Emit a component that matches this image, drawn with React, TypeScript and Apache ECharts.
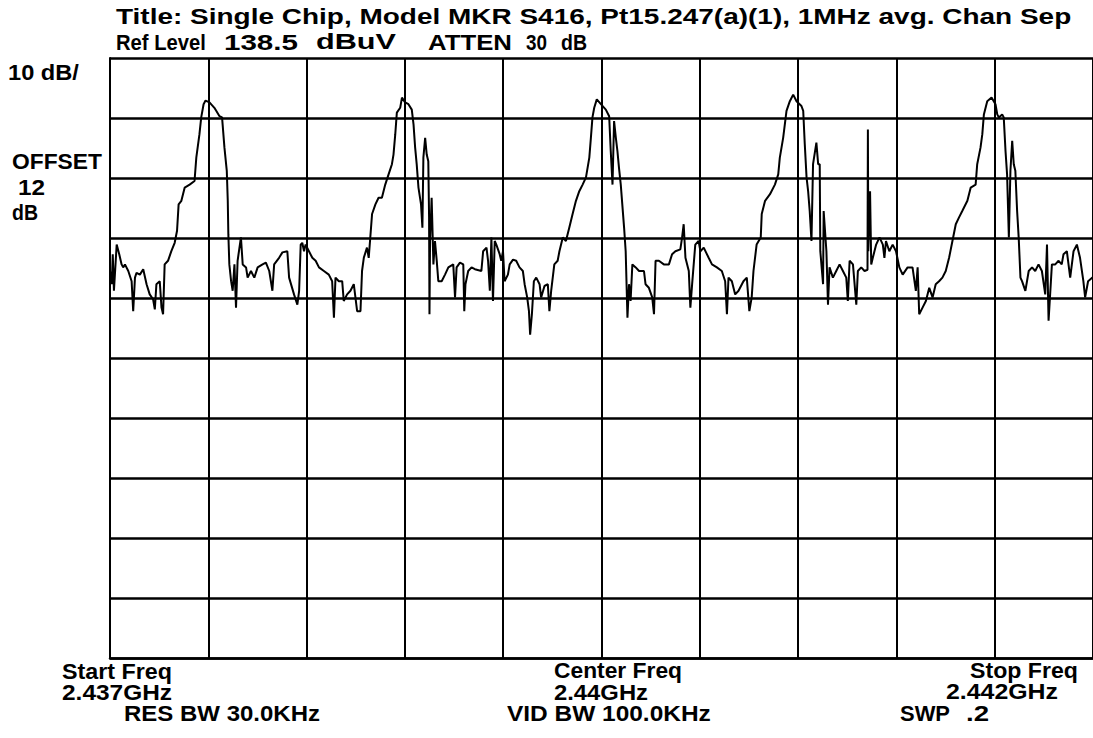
import React, { useEffect, useRef } from "react";
import * as echarts from "echarts";

// ---- Analyzer settings (from the screen annotations) ----
const REF_LEVEL_DBUV = 138.5;
const DB_PER_DIV = 10;
const START_FREQ_MHZ = 2437;
const STOP_FREQ_MHZ = 2442;
const FREQ_DIV_MHZ = 0.5;

// ---- Trace: [frequency MHz, level dBuV] ----
const traceChannel1: [number, number][] = [
  [2437.000, 103.0], [2437.009, 100.8], [2437.014, 105.8], [2437.020, 99.7], [2437.034, 107.4], [2437.047, 105.8],
  [2437.059, 104.1], [2437.067, 103.6], [2437.076, 104.1], [2437.093, 103.0], [2437.110, 101.3], [2437.118, 96.3],
  [2437.127, 101.9], [2437.135, 102.7], [2437.152, 102.4], [2437.169, 103.3], [2437.186, 100.8], [2437.202, 99.1],
  [2437.219, 98.3], [2437.228, 96.6], [2437.236, 100.8], [2437.253, 101.3], [2437.262, 96.9], [2437.270, 95.8],
  [2437.278, 104.1], [2437.295, 104.7], [2437.312, 106.3], [2437.329, 107.7], [2437.341, 109.7], [2437.349, 114.1],
  [2437.363, 114.7], [2437.380, 116.9], [2437.405, 117.4], [2437.430, 118.0], [2437.439, 121.9], [2437.455, 125.8],
  [2437.464, 128.6], [2437.476, 130.8], [2437.486, 131.4], [2437.506, 131.1], [2437.531, 130.2], [2437.557, 128.8],
  [2437.570, 128.6], [2437.582, 123.6], [2437.594, 119.7], [2437.599, 114.7], [2437.602, 109.1], [2437.607, 104.1],
  [2437.616, 101.3], [2437.624, 99.7], [2437.633, 104.1], [2437.641, 96.9], [2437.649, 104.7], [2437.666, 108.6],
  [2437.675, 104.1], [2437.692, 103.6], [2437.700, 101.9], [2437.717, 103.0], [2437.734, 101.9], [2437.751, 103.6],
  [2437.776, 104.1], [2437.793, 104.4], [2437.810, 103.0], [2437.826, 99.7], [2437.835, 104.1], [2437.860, 105.2],
  [2437.877, 106.1], [2437.902, 106.3], [2437.911, 101.9], [2437.936, 99.1], [2437.953, 97.4], [2437.962, 99.7],
  [2437.970, 107.4], [2437.978, 107.7], [2437.987, 106.3], [2437.995, 107.4],
];

const traceChannel2: [number, number][] = [
  [2438.012, 106.3], [2438.029, 105.2], [2438.046, 104.7], [2438.063, 103.6], [2438.088, 103.0], [2438.113, 102.4],
  [2438.130, 101.3], [2438.139, 95.2], [2438.147, 101.9], [2438.164, 101.3], [2438.181, 101.3], [2438.189, 98.0],
  [2438.206, 99.1], [2438.223, 99.7], [2438.240, 100.8], [2438.257, 96.3], [2438.274, 96.3], [2438.282, 103.0],
  [2438.291, 105.2], [2438.307, 106.9], [2438.316, 105.2], [2438.324, 108.6], [2438.333, 112.5], [2438.350, 114.1],
  [2438.366, 115.2], [2438.383, 115.2], [2438.400, 117.4], [2438.417, 119.1], [2438.434, 120.8], [2438.442, 122.4],
  [2438.451, 125.8], [2438.459, 129.4], [2438.476, 130.2], [2438.485, 131.9], [2438.501, 131.1], [2438.518, 130.8],
  [2438.535, 129.9], [2438.544, 127.4], [2438.552, 123.6], [2438.560, 120.8], [2438.569, 116.9], [2438.582, 114.1],
  [2438.589, 110.2], [2438.594, 121.9], [2438.603, 125.2], [2438.611, 122.4], [2438.619, 121.3], [2438.623, 111.9],
  [2438.625, 95.8], [2438.628, 108.0], [2438.636, 115.2], [2438.645, 104.1], [2438.653, 108.0], [2438.662, 104.7],
  [2438.670, 101.3], [2438.687, 101.3], [2438.704, 102.4], [2438.721, 103.6], [2438.746, 104.1], [2438.755, 98.6],
  [2438.763, 103.6], [2438.780, 104.4], [2438.797, 104.1], [2438.802, 96.3], [2438.808, 100.8], [2438.822, 103.0],
  [2438.839, 103.6], [2438.856, 103.3], [2438.889, 103.0], [2438.898, 106.3], [2438.915, 106.9], [2438.923, 104.7],
  [2438.932, 99.7], [2438.940, 108.6], [2438.948, 98.0], [2438.957, 108.0], [2438.965, 107.4], [2438.982, 105.8],
  [2438.990, 104.7], [2438.999, 106.3],
];

const traceChannel3: [number, number][] = [
  [2439.007, 101.3], [2439.024, 102.4], [2439.033, 104.1], [2439.050, 104.9], [2439.066, 104.7], [2439.083, 103.6],
  [2439.100, 103.0], [2439.109, 100.8], [2439.122, 98.6], [2439.131, 96.3], [2439.137, 92.4], [2439.146, 95.8],
  [2439.156, 101.3], [2439.168, 101.9], [2439.185, 100.8], [2439.193, 98.6], [2439.210, 100.5], [2439.227, 100.8],
  [2439.235, 96.3], [2439.244, 99.7], [2439.260, 104.1], [2439.277, 104.7], [2439.286, 106.3], [2439.303, 108.6],
  [2439.319, 108.0], [2439.336, 110.2], [2439.353, 112.5], [2439.370, 114.7], [2439.387, 116.3], [2439.404, 117.4],
  [2439.421, 118.6], [2439.438, 121.9], [2439.446, 125.2], [2439.454, 128.6], [2439.463, 130.2], [2439.476, 131.6],
  [2439.497, 130.8], [2439.522, 129.9], [2439.539, 128.8], [2439.547, 123.0], [2439.556, 117.4], [2439.564, 128.0],
  [2439.573, 125.2], [2439.581, 123.0], [2439.589, 120.2], [2439.598, 117.4], [2439.615, 110.2], [2439.623, 106.3],
  [2439.632, 95.2], [2439.640, 100.8], [2439.648, 98.0], [2439.657, 104.1], [2439.674, 103.6], [2439.691, 103.0],
  [2439.716, 103.0], [2439.724, 100.8], [2439.741, 100.2], [2439.758, 98.6], [2439.767, 95.8], [2439.775, 104.7],
  [2439.792, 104.7], [2439.817, 104.1], [2439.843, 104.1], [2439.859, 105.8], [2439.876, 106.3], [2439.901, 106.6],
  [2439.910, 108.6], [2439.918, 110.8], [2439.927, 105.2], [2439.944, 103.0], [2439.952, 96.9], [2439.961, 100.8],
  [2439.977, 107.4], [2439.994, 108.0],
];

const traceChannel4: [number, number][] = [
  [2440.003, 106.3], [2440.020, 106.9], [2440.045, 105.2], [2440.062, 104.1], [2440.087, 103.6], [2440.112, 103.0],
  [2440.129, 101.3], [2440.138, 95.8], [2440.146, 101.9], [2440.163, 101.3], [2440.180, 99.1], [2440.197, 99.7],
  [2440.222, 101.3], [2440.239, 101.9], [2440.252, 96.3], [2440.264, 98.6], [2440.273, 103.0], [2440.289, 107.4],
  [2440.310, 108.6], [2440.315, 112.5], [2440.332, 114.7], [2440.357, 115.8], [2440.382, 117.4], [2440.399, 119.1],
  [2440.407, 121.9], [2440.424, 125.2], [2440.441, 129.7], [2440.458, 131.3], [2440.475, 132.4], [2440.492, 131.3],
  [2440.517, 130.5], [2440.526, 129.7], [2440.534, 124.1], [2440.543, 118.6], [2440.551, 116.3], [2440.559, 113.0],
  [2440.568, 108.0], [2440.576, 120.8], [2440.593, 124.4], [2440.602, 120.8], [2440.610, 120.8], [2440.613, 106.3],
  [2440.627, 100.8], [2440.630, 113.0], [2440.644, 106.3], [2440.652, 97.4], [2440.660, 103.6], [2440.677, 101.9],
  [2440.694, 103.0], [2440.711, 104.1], [2440.728, 103.0], [2440.745, 101.9], [2440.753, 98.0], [2440.762, 104.7],
  [2440.779, 104.1], [2440.796, 97.4], [2440.804, 103.0], [2440.821, 103.6], [2440.838, 103.0], [2440.853, 103.2],
  [2440.855, 126.6], [2440.857, 106.3], [2440.866, 116.3], [2440.872, 104.1], [2440.880, 105.2], [2440.897, 107.4],
  [2440.914, 108.6], [2440.931, 107.4], [2440.939, 105.2], [2440.947, 108.0], [2440.964, 106.3], [2440.981, 107.4],
  [2440.998, 106.3],
];

const traceChannel5: [number, number][] = [
  [2441.015, 103.6], [2441.032, 102.4], [2441.057, 103.6], [2441.082, 103.6], [2441.099, 99.7], [2441.108, 103.6],
  [2441.116, 95.8], [2441.133, 96.9], [2441.150, 98.0], [2441.167, 100.2], [2441.184, 98.6], [2441.200, 100.8],
  [2441.217, 101.3], [2441.234, 101.9], [2441.251, 103.0], [2441.268, 105.2], [2441.285, 108.0], [2441.302, 110.8],
  [2441.318, 111.9], [2441.335, 113.0], [2441.361, 114.7], [2441.378, 116.9], [2441.403, 117.4], [2441.411, 120.8],
  [2441.428, 123.6], [2441.437, 125.8], [2441.445, 129.1], [2441.462, 131.3], [2441.484, 131.9], [2441.504, 130.8],
  [2441.513, 129.1], [2441.521, 128.6], [2441.538, 129.1], [2441.546, 128.6], [2441.555, 123.0], [2441.563, 119.1],
  [2441.572, 108.6], [2441.580, 119.7], [2441.589, 124.7], [2441.597, 120.8], [2441.605, 119.7], [2441.614, 113.0],
  [2441.622, 108.6], [2441.631, 101.9], [2441.639, 101.3], [2441.656, 99.7], [2441.673, 103.0], [2441.690, 103.6],
  [2441.706, 103.0], [2441.723, 104.1], [2441.740, 103.0], [2441.757, 99.1], [2441.766, 107.4], [2441.774, 94.7],
  [2441.791, 104.1], [2441.808, 104.1], [2441.825, 104.7], [2441.841, 104.1], [2441.850, 105.8], [2441.867, 106.3],
  [2441.884, 101.9], [2441.901, 106.3], [2441.918, 107.4], [2441.934, 105.2], [2441.951, 101.3], [2441.960, 98.6],
  [2441.975, 101.3], [2442.000, 102.0],
];

// ---- Screen annotations ----
const titleText = "Title: Single Chip, Model MKR S416, Pt15.247(a)(1), 1MHz avg. Chan Sep";
const refLineTexts = ["Ref Level", "138.5", "dBuV", "ATTEN", "30", "dB"];
const leftTexts = ["10 dB/", "OFFSET", "12", "dB"];
const startTexts = ["Start Freq", "2.437GHz", "RES BW 30.0KHz"];
const centerTexts = ["Center Freq", "2.44GHz", "VID BW 100.0KHz"];
const stopTexts = ["Stop Freq", "2.442GHz", "SWP", ".2"];

// ---- Layout (pixels): [left, right, vertical centre] ----
const FONT_FAMILY = "'Liberation Sans', Arial, sans-serif";
const FONT_SIZE = 22;
const GRID = { left: 110, top: 58, width: 988, height: 600 };

const textBoxes: { text: string; box: [number, number, number] }[] = [
  { text: titleText, box: [116, 1072, 16] },
  { text: refLineTexts[0], box: [116, 206, 42] },
  { text: refLineTexts[1], box: [224, 298, 42] },
  { text: refLineTexts[2], box: [316, 396, 42] },
  { text: refLineTexts[3], box: [428, 512, 42] },
  { text: refLineTexts[4], box: [526, 547, 42] },
  { text: refLineTexts[5], box: [561, 587, 42] },
  { text: leftTexts[0], box: [8, 79, 72] },
  { text: leftTexts[1], box: [12, 102, 162] },
  { text: leftTexts[2], box: [18, 45, 187] },
  { text: leftTexts[3], box: [12, 38, 212] },
  { text: startTexts[0], box: [62, 172, 671] },
  { text: startTexts[1], box: [62, 172, 692] },
  { text: startTexts[2], box: [124, 320, 713] },
  { text: centerTexts[0], box: [554, 682, 671] },
  { text: centerTexts[1], box: [554, 648, 692] },
  { text: centerTexts[2], box: [507, 711, 713] },
  { text: stopTexts[0], box: [970, 1078, 671] },
  { text: stopTexts[1], box: [946, 1058, 692] },
  { text: stopTexts[2], box: [900, 950, 713] },
  { text: stopTexts[3], box: [966, 989, 713] },
];

function measureWidth(text: string): number {
  const ctx = document.createElement("canvas").getContext("2d");
  if (!ctx) return text.length * FONT_SIZE * 0.6;
  ctx.font = `bold ${FONT_SIZE}px ${FONT_FAMILY}`;
  return ctx.measureText(text).width;
}

export default function App() {
  const ref = useRef<HTMLDivElement>(null);

  useEffect(() => {
    if (!ref.current) return;
    const chart = echarts.init(ref.current, undefined, { renderer: "svg" });

    const trace = [
      ...traceChannel1,
      ...traceChannel2,
      ...traceChannel3,
      ...traceChannel4,
      ...traceChannel5,
    ];

    const graphics = textBoxes.map(({ text, box }) => {
      const [x0, x1, yc] = box;
      const w = measureWidth(text);
      return {
        type: "text",
        x: x0,
        y: yc,
        scaleX: (x1 - x0) / w,
        silent: true,
        style: {
          text,
          fontSize: FONT_SIZE,
          fontWeight: "bold",
          fontFamily: FONT_FAMILY,
          fill: "#000",
          textAlign: "left",
          textVerticalAlign: "middle",
          align: "left",
          verticalAlign: "middle",
        },
      };
    });

    const vLine = { color: "#000", width: 2 };
    const hLine = { color: "#000", width: 2.5 };

    chart.setOption({
      animation: false,
      backgroundColor: "#fff",
      grid: { ...GRID, containLabel: false },
      xAxis: {
        type: "value",
        min: START_FREQ_MHZ,
        max: STOP_FREQ_MHZ,
        interval: FREQ_DIV_MHZ,
        axisLabel: { show: false },
        axisTick: { show: false },
        axisLine: { show: true, onZero: false, lineStyle: hLine },
        splitLine: { show: true, lineStyle: vLine },
      },
      yAxis: {
        type: "value",
        min: REF_LEVEL_DBUV - 10 * DB_PER_DIV,
        max: REF_LEVEL_DBUV,
        interval: DB_PER_DIV,
        axisLabel: { show: false },
        axisTick: { show: false },
        axisLine: { show: true, onZero: false, lineStyle: vLine },
        splitLine: { show: true, lineStyle: hLine },
      },
      series: [
        {
          type: "line",
          data: trace,
          showSymbol: false,
          symbol: "none",
          clip: true,
          lineStyle: { color: "#000", width: 2 },
        },
      ],
      graphic: graphics,
    });

    return () => chart.dispose();
  }, []);

  return (
    <div
      ref={ref}
      style={{ position: "fixed", left: 0, top: 0, width: 1093, height: 738, background: "#fff" }}
    />
  );
}
